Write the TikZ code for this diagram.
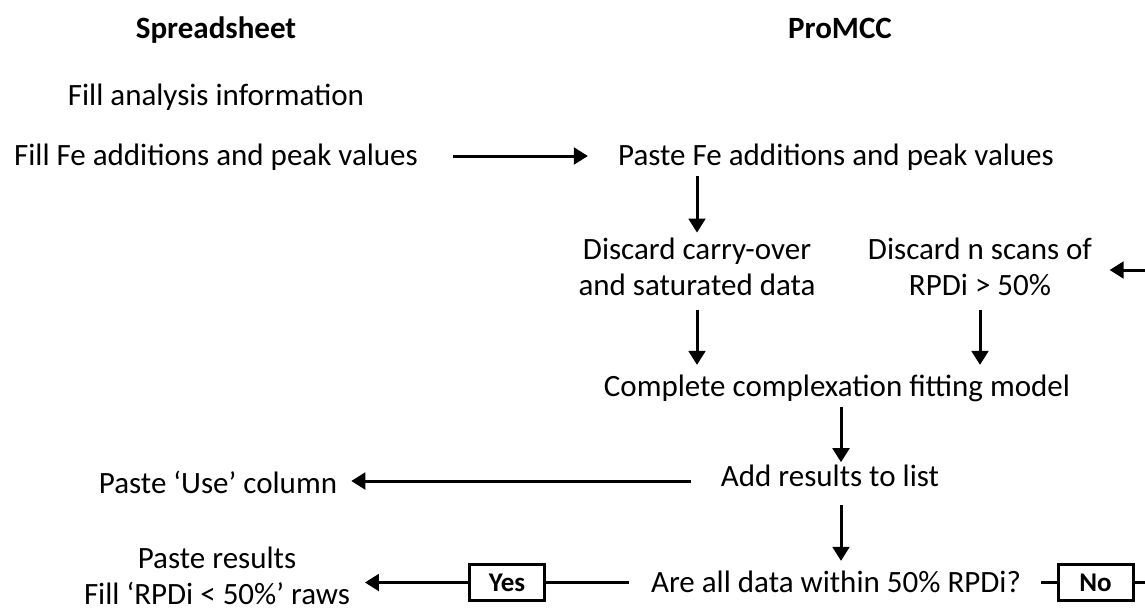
\documentclass[tikz,border=0pt]{standalone}
\usepackage{fontspec}
\setmainfont{Carlito}
\usetikzlibrary{arrows.meta}
\begin{document}
\begin{tikzpicture}[x=0.75pt,y=-0.75pt,
  txt/.style={inner sep=0pt, font=\fontsize{23.25}{27.4}\selectfont, align=center},
  hdr/.style={inner sep=0pt, font=\fontsize{23.25}{27.4}\selectfont\bfseries},
  yn/.style={draw, line width=2.25pt, inner sep=0pt, minimum width=56.25pt, minimum height=27pt,
    font=\fontsize{20.25}{24}\selectfont\bfseries},
  arr/.style={line width=2.25pt, -{Triangle[length=10.5pt,width=12.5pt]}},
  ln/.style={line width=2.25pt}
]
\useasboundingbox (0,0) rectangle (1145,612);
\clip (0,0) rectangle (1145,612);

% headers
\node[hdr, anchor=base] (hs) at (216,38) {Spreadsheet};
\node[hdr, anchor=base] (hp) at (840,38) {ProMCC};

% text nodes
\node[txt, anchor=base] (fillinfo) at (216,105) {Fill analysis information};
\node[txt, anchor=base] (fillfe) at (216,165) {Fill Fe additions and peak values};
\node[txt, anchor=base] (pastefe) at (836,165) {Paste Fe additions and peak values};
\node[txt] (d1) at (697,267) {Discard carry-over\\and saturated data};
\node[txt] (d2) at (980,267) {Discard n scans of\\RPDi > 50\%};
\node[txt, anchor=base] (complete) at (837,396) {Complete complexation fitting model};
\node[txt, anchor=base] (addres) at (830,486) {Add results to list};
\node[txt, anchor=base] (pasteuse) at (218,493) {Paste ‘Use’ column};
\node[txt, anchor=base] (are) at (836,592) {Are all data within 50\% RPDi?};
\node[txt] (pasteres) at (217,576) {Paste results\\Fill ‘RPDi < 50\%’ raws};

% decision boxes
\node[yn] (yes) at (507,582.5) {Yes};
\node[yn] (no) at (1095.5,582.5) {No};

% helper coordinates
\coordinate (rowF) at (0,156);
\coordinate (rowA) at (0,481);
\coordinate (rowY) at (0,582.5);
\coordinate (loopY) at (0,270);
\coordinate (colC) at (841,0);
\coordinate (loopX) at (1175,0);

% connectors
\draw[arr, shorten <=26.25pt, shorten >=22.5pt] (fillfe.east |- rowF) -- (pastefe.west |- rowF);
\draw[arr, shorten <=4.5pt, shorten >=3.75pt] (pastefe.south -| d1.north) -- (d1.north);
\draw[arr, shorten <=10pt, shorten >=7pt] (d1.south) -- (d1.south |- complete.north);
\draw[arr, shorten <=10pt, shorten >=7pt] (d2.south) -- (d2.south |- complete.north);
\draw[arr, shorten <=4pt, shorten >=1.5pt] (complete.south -| colC) -- (addres.north -| colC);
\draw[arr, shorten <=14pt, shorten >=7pt] (addres.south -| colC) -- (are.north -| colC);
\draw[arr, shorten <=22.5pt, shorten >=10.5pt] (addres.west |- rowA) -- (pasteuse.east |- rowA);
\draw[ln, shorten <=16.5pt] (are.west |- rowY) -- (yes.east |- rowY);
\draw[arr, shorten >=11pt] (yes.west |- rowY) -- (pasteres.east |- rowY);
\draw[ln, shorten <=15pt] (are.east |- rowY) -- (no.west |- rowY);
\draw[arr, shorten >=13pt] (no.east |- rowY) -- (loopX |- rowY) -- (loopX |- loopY) -- (d2.east |- loopY);
\end{tikzpicture}
\end{document}
